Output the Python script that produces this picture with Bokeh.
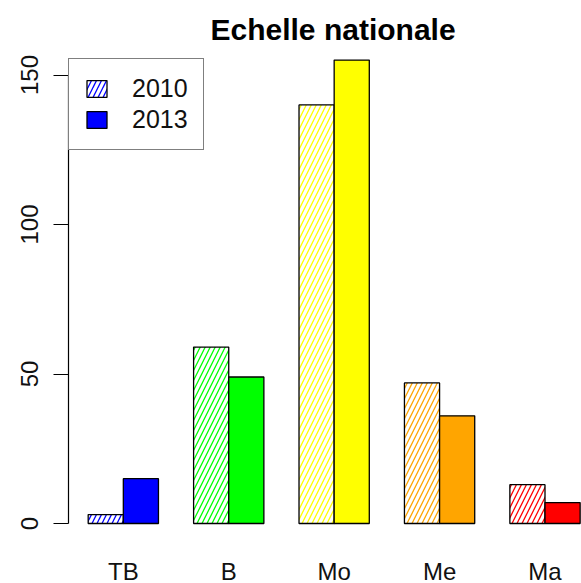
from bokeh.plotting import figure
from bokeh.models import (ColumnDataSource, Range1d, LinearAxis, FixedTicker,
                          Legend, LegendItem, Title)
from bokeh.embed import file_html
from bokeh.resources import INLINE

# ---- data ----
categories = ["TB", "B", "Mo", "Me", "Ma"]
colors = ["#0000FF", "#00FF00", "#FFFF00", "#FFA500", "#FF0000"]
values_2010 = [3, 59, 140, 47, 13]
values_2013 = [15, 49, 155, 36, 7]
series_labels = ["2010", "2013"]
y_ticks = [0, 50, 100, 150]

FONT = "Liberation Sans"

idx = list(range(len(categories)))
x2010 = [3 * i + 1.5 for i in idx]
x2013 = [3 * i + 2.5 for i in idx]
centers = [3 * i + 2 for i in idx]

src10 = ColumnDataSource(dict(x=x2010, top=values_2010, color=colors, cat=categories))
src13 = ColumnDataSource(dict(x=x2013, top=values_2013, color=colors, cat=categories))
srclab = ColumnDataSource(dict(x=centers, y=[0] * len(centers), text=categories))

W, H = 581, 583
left_b, right_b, top_b, bottom_b = 68, 0, 50, 0
frame_w = W - left_b - right_b
unit_px = 35.14
px_per_val = 2.99
zero_y = 523  # pixel row of value 0
x0 = 0.44
x1 = x0 + frame_w / unit_px
y_top = (zero_y - top_b) / px_per_val
y_bot = -((H - bottom_b) - zero_y) / px_per_val

p = figure(width=W, height=H, output_backend="svg", toolbar_location=None,
           x_range=Range1d(x0, x1), y_range=Range1d(y_bot, y_top),
           x_axis_location=None, y_axis_location=None,
           min_border_left=left_b, min_border_right=right_b,
           min_border_top=top_b, min_border_bottom=bottom_b,
           background_fill_color="white", border_fill_color="white")
p.outline_line_color = None
p.xgrid.visible = False
p.ygrid.visible = False

r10 = p.vbar(x="x", top="top", bottom=0, width=1.0, source=src10,
             fill_color="white", line_color="black", line_width=1.3,
             hatch_pattern="/", hatch_color="color", hatch_scale=10,
             hatch_weight=1.3)
r13 = p.vbar(x="x", top="top", bottom=0, width=1.0, source=src13,
             fill_color="color", line_color="black", line_width=1.3)

# category labels under each group (R barplot names)
p.text(x="x", y="y", text="text", source=srclab, y_offset=34,
       text_align="center", text_baseline="top",
       text_font={"value": FONT}, text_font_size="24px", text_color="#111111")

# y axis
yax = LinearAxis(ticker=FixedTicker(ticks=y_ticks), bounds=(0, 150))
yax.axis_line_color = "black"
yax.axis_line_width = 1.2
yax.major_tick_line_color = "black"
yax.major_tick_line_width = 1.2
yax.major_tick_out = 15
yax.major_tick_in = 0
yax.minor_tick_line_color = None
yax.major_label_standoff = 16
yax.major_label_orientation = "parallel"
yax.major_label_text_font = FONT
yax.major_label_text_font_size = "24px"
yax.major_label_text_color = "#111111"
p.add_layout(yax, "left")

# title
t = Title(text="Echelle nationale", align="left", text_font=FONT,
          text_font_size="30px", text_font_style="bold", text_color="black",
          standoff=10, offset=142)
p.add_layout(t, "above")

# legend
legend_bottom = 150
legend = Legend(items=[LegendItem(label=series_labels[0], renderers=[r10], index=0),
                       LegendItem(label=series_labels[1], renderers=[r13], index=0)],
                location=(0, (H - bottom_b) - legend_bottom),
                label_text_font=FONT, label_text_font_size="25px",
                label_text_color="#111111",
                glyph_width=25, glyph_height=21, label_standoff=23,
                padding=15, spacing=2, margin=0,
                border_line_color="black", border_line_width=1.2,
                background_fill_color="white", background_fill_alpha=1.0)
p.add_layout(legend, "center")

open("out.html", "w").write(file_html(p, INLINE))
